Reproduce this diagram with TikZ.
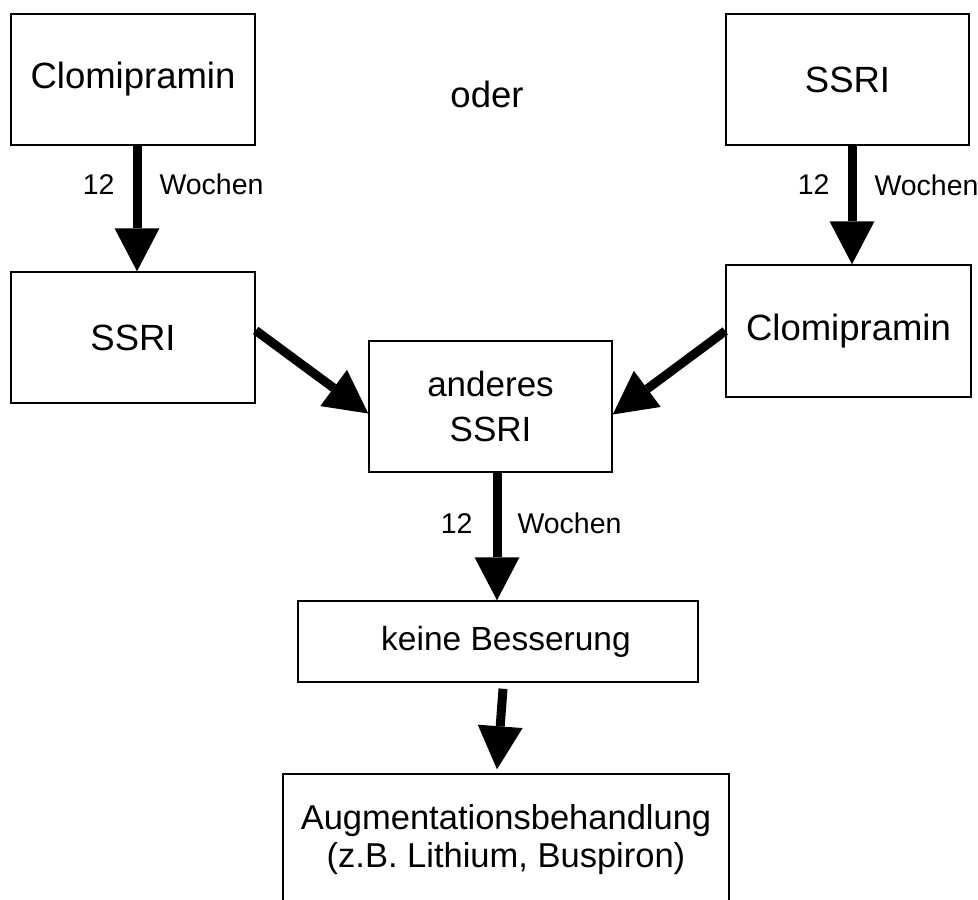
\documentclass[tikz,border=0pt]{standalone}
\usepackage{fontspec}
\setmainfont{Liberation Sans}
\usetikzlibrary{arrows.meta, positioning}

\begin{document}
\begin{tikzpicture}[
    x=1pt, y=-1pt,
    every node/.style={font=\fontsize{36.5}{45}\selectfont},
    box/.style={draw, line width=1.5pt, inner sep=0pt, align=center},
    fat/.style={line width=9pt, -{Triangle[width=45pt, length=43pt, line width=0pt]}},
    lbl/.style={inner sep=0pt, font=\fontsize{28.5}{30}\selectfont}
]
\useasboundingbox (0,0) rectangle (978,900);

% Starting drugs
\node[box, minimum width=244pt, minimum height=131pt] (clo1) at (133, 79.5) {Clomipramin};
\node (oder) at (487, 94) {oder};
\node[box, minimum width=243pt, minimum height=131pt] (ssri1) at (847.5, 79.5) {SSRI};

% Switch
\node[box, minimum width=244pt, minimum height=131pt] (ssri2) at (133, 337.5) {SSRI};
\node[box, minimum width=245pt, minimum height=132pt] (clo2) at (848.5, 331) {Clomipramin};

% Other SSRI
\node[box, minimum width=243pt, minimum height=131pt, font=\fontsize{35}{45}\selectfont] (anderes) at (490.5, 406.5) {anderes\\SSRI};

% No improvement
\node[box, minimum width=400pt, minimum height=81pt, font=\fontsize{33.5}{45}\selectfont] (keine) at (498, 641.5) {\hspace*{16pt}keine Besserung};

% Augmentation (cut off at the bottom)
\node[box, minimum width=446pt, minimum height=132pt, font=\fontsize{34.5}{38}\selectfont] (augm) at (506, 840) {Augmentationsbehandlung\\(z.B. Lithium, Buspiron)};

% Arrows with durations
\draw[fat] ([xshift=4pt]clo1.south) -- ([xshift=4pt]ssri2.north)
    node[lbl, pos=.31, left=18pt] {12}
    node[lbl, pos=.31, right=18pt] {Wochen};
\draw[fat] ([xshift=4.5pt]ssri1.south) -- ([xshift=3.5pt]clo2.north)
    node[lbl, pos=.33, left=18pt] {12}
    node[lbl, pos=.33, right=18pt] {Wochen};
\draw[fat] ([xshift=6.5pt]anderes.south) -- ([xshift=-1pt]keine.north)
    node[lbl, pos=.4, left=20pt] {12}
    node[lbl, pos=.4, right=16pt] {Wochen};

% Arrows into the other SSRI
\draw[fat] ([yshift=7pt]ssri2.east) -- ([yshift=-7pt]anderes.west);
\draw[fat] (clo2.west) -- ([yshift=-8pt]anderes.east);

% Last step
\draw[fat] ([xshift=5pt, yshift=-6pt]keine.south) -- ([xshift=-9pt, yshift=4pt]augm.north);

\end{tikzpicture}
\end{document}
